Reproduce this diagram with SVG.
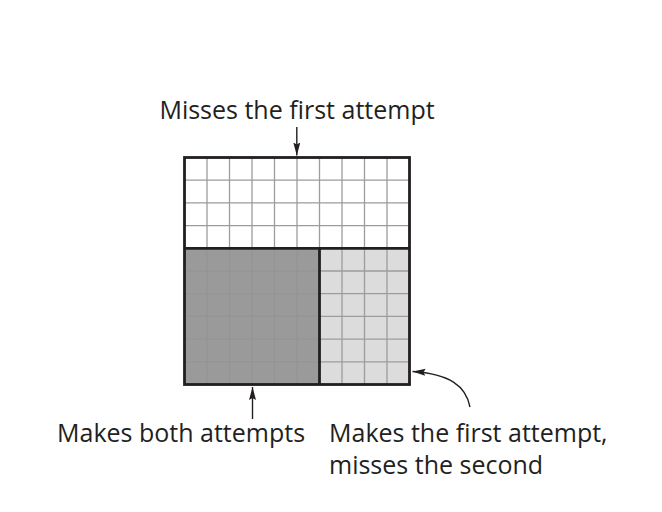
<svg xmlns="http://www.w3.org/2000/svg" width="662" height="512" viewBox="0 0 662 512">
<style>
.t{font-family:"Open Sans","Noto Sans","Liberation Sans",sans-serif;font-size:25px;fill:#231f20}
.g{stroke:#9c9c9c;stroke-width:1.3;fill:none}
.gd{stroke:#929292;stroke-width:0.9;fill:none}
.b{stroke:#231f20;stroke-width:2.8;fill:none}
.a{stroke:#231f20;stroke-width:1.4;fill:none}
</style>
<defs>
<marker id="ah" markerUnits="userSpaceOnUse" markerWidth="14" markerHeight="8" refX="13" refY="4" orient="auto">
<path d="M0,0.5 L13,4 L0,7.5 L2,4 z" fill="#231f20"/>
</marker>
</defs>
<rect width="662" height="512" fill="#fff"/>
<g id="region-miss-first">
<rect x="184.5" y="157.5" width="225" height="90.8" fill="#fff"/>
<path class="g" d="M207,157.5V248.3M229.5,157.5V248.3M252,157.5V248.3M274.5,157.5V248.3M297,157.5V248.3M319.5,157.5V248.3M342,157.5V248.3M364.5,157.5V248.3M387,157.5V248.3M184.5,180.2H409.5M184.5,202.9H409.5M184.5,225.6H409.5"/>
</g>
<g id="region-both">
<rect x="184.5" y="248.3" width="135" height="136.2" fill="#9a9a9a"/>
<path class="gd" d="M207,248.3V384.5M229.5,248.3V384.5M252,248.3V384.5M274.5,248.3V384.5M297,248.3V384.5M184.5,271H319.5M184.5,293.7H319.5M184.5,316.4H319.5M184.5,339.1H319.5M184.5,361.8H319.5"/>
</g>
<g id="region-first-miss-second">
<rect x="319.5" y="248.3" width="90" height="136.2" fill="#dcdcdc"/>
<path class="g" d="M342,248.3V384.5M364.5,248.3V384.5M387,248.3V384.5M319.5,271H409.5M319.5,293.7H409.5M319.5,316.4H409.5M319.5,339.1H409.5M319.5,361.8H409.5"/>
</g>
<g id="borders">
<rect class="b" x="184.5" y="157.5" width="225" height="227"/>
<path class="b" d="M184.5,248.3H409.5M319.5,248.3V384.5"/>
</g>
<g id="connectors">
<path class="a" d="M296.8,127V155.5" marker-end="url(#ah)"/>
<path class="a" d="M252.5,419V387" marker-end="url(#ah)"/>
<path class="a" d="M470,407C466,386 450,374 412.5,371.5" marker-end="url(#ah)"/>
</g>
<g id="labels">
<text class="t" x="297" y="119" text-anchor="middle">Misses the first attempt</text>
<text class="t" x="57" y="442">Makes both attempts</text>
<text class="t" x="329" y="442">Makes the first attempt,</text>
<text class="t" x="329" y="473.5">misses the second</text>
</g>
</svg>
